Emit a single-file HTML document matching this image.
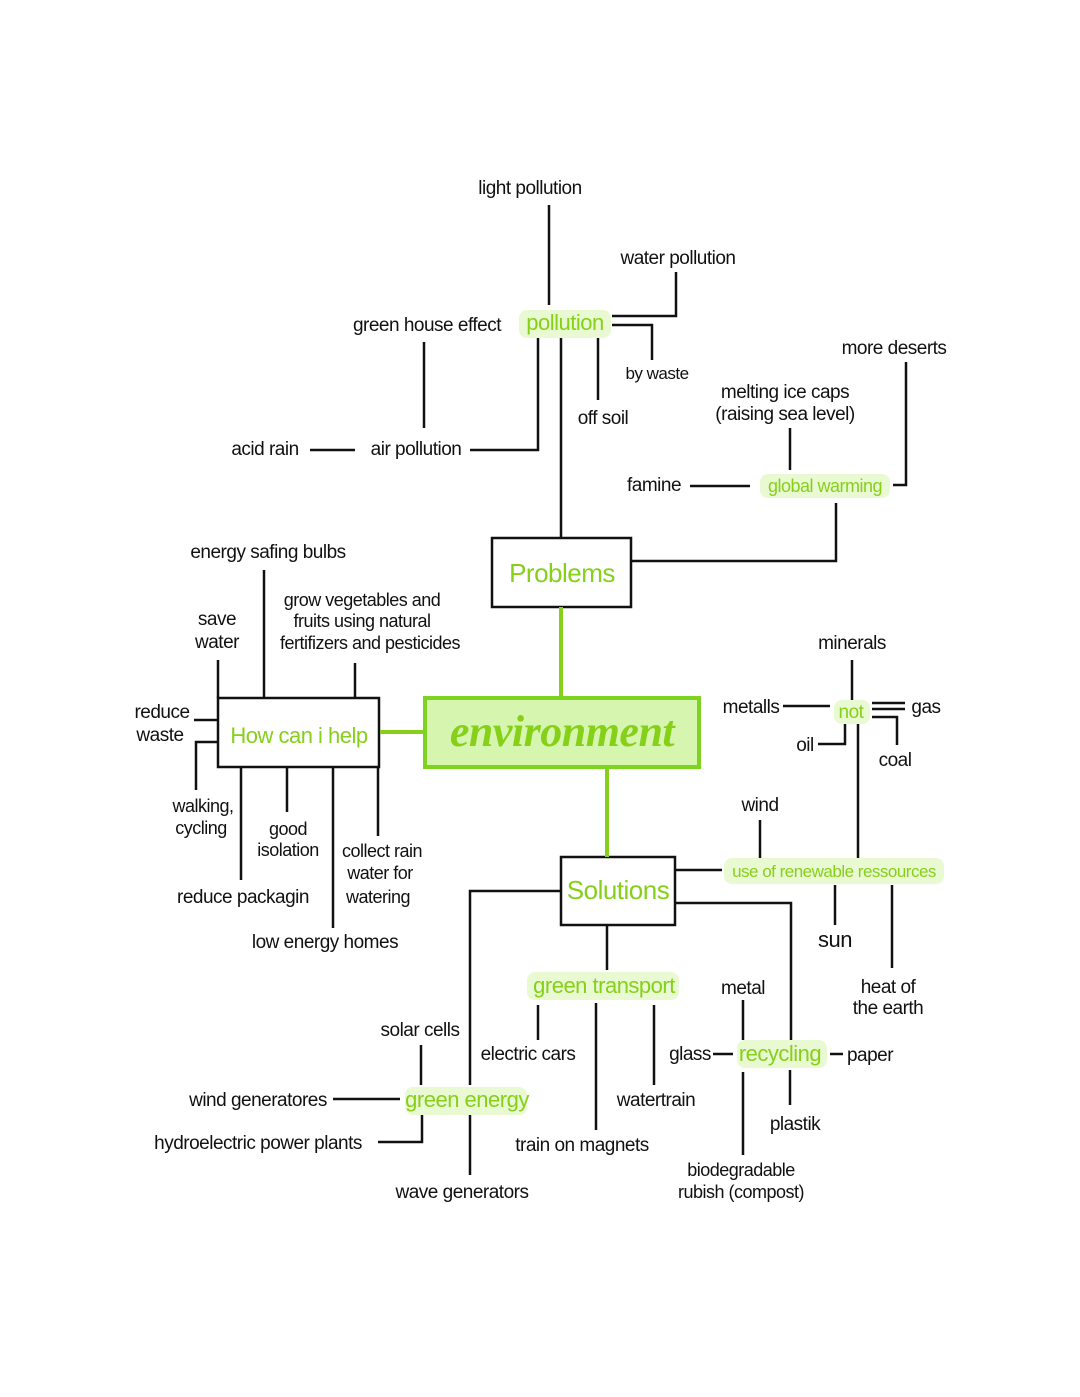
<!DOCTYPE html>
<html><head><meta charset="utf-8"><style>
html,body{margin:0;padding:0;background:#fff}
svg{display:block}
text{font-family:"Liberation Sans Narrow","Liberation Sans",sans-serif;font-size:19px;fill:#111;text-anchor:middle;letter-spacing:-0.5px}
.g{fill:#86d01a}
.hl{fill:#e9f9d2}
</style></head><body>
<svg width="1080" height="1397" viewBox="0 0 1080 1397" xmlns="http://www.w3.org/2000/svg">
<g stroke="#111" stroke-width="2.5" fill="none">
<path d="M549 205V305"/><path d="M676 272V316H612"/><path d="M612 325H652V360"/>
<path d="M598 338V400"/><path d="M424 342V428"/><path d="M310 450H355"/>
<path d="M470 450H538V338"/><path d="M561 338V537"/>
<rect x="492" y="538" width="139" height="69"/>
<path d="M631 561H836V503"/><path d="M690 486H750"/><path d="M790 428V470"/>
<path d="M906 362V485H893"/>
<rect x="218" y="698" width="161" height="69"/>
<path d="M218 660V698"/><path d="M264 570V698"/><path d="M355 663V698"/>
<path d="M194 720H218"/><path d="M218 742H196V790"/>
<path d="M241 767V880"/><path d="M287 767V812"/><path d="M333 767V928"/><path d="M378 767V836"/>
<rect x="561" y="857" width="114" height="68"/>
<path d="M675 870H722"/><path d="M760 820V860"/>
<path d="M852 660V700"/><path d="M783 706H830"/><path d="M872 703H905M872 709H905"/>
<path d="M818 744H845V724"/><path d="M872 717H897V745"/><path d="M858 724V858"/>
<path d="M835 885V925"/><path d="M892 885V968"/>
<path d="M675 903H791V1040"/>
<path d="M743 1000V1040"/><path d="M713 1054H733"/><path d="M830 1054H843"/>
<path d="M790 1070V1105"/><path d="M743 1072V1155"/>
<path d="M607 925V970"/><path d="M538 1005V1040"/><path d="M596 1003V1130"/><path d="M654 1005V1085"/>
<path d="M561 891H470V1085"/><path d="M421 1045V1085"/><path d="M333 1099H400"/>
<path d="M378 1142H422V1115"/><path d="M470 1115V1175"/>
</g>
<g stroke="#86d01a" stroke-width="4" fill="none">
<path d="M561 607V697"/><path d="M380 732H424"/><path d="M607 768V857"/>
</g>
<rect x="425" y="698" width="274" height="69" fill="#d6f5ae" stroke="#7ed321" stroke-width="4"/>
<text x="562" y="746" class="g" style="font-family:'Liberation Serif',serif;font-style:italic;font-weight:bold;font-size:44px">environment</text>
<g class="hl">
<rect x="519" y="310" width="92" height="28" rx="8"/>
<rect x="760" y="474" width="130" height="24" rx="8"/>
<rect x="834" y="700" width="36" height="24" rx="8"/>
<rect x="724" y="858" width="220" height="26" rx="8"/>
<rect x="527" y="972" width="152" height="28" rx="8"/>
<rect x="737" y="1040" width="90" height="28" rx="8"/>
<rect x="405" y="1087" width="122" height="28" rx="8"/>
</g>
<text x="530" y="194">light pollution</text>
<text x="678" y="264">water pollution</text>
<text x="565" y="330" class="g" style="font-size:22px">pollution</text>
<text x="427" y="331">green house effect</text>
<text x="657" y="379" style="font-size:17px">by waste</text>
<text x="603" y="424">off soil</text>
<text x="894" y="354">more deserts</text>
<text x="785" y="398">melting ice caps</text>
<text x="785" y="420">(raising sea level)</text>
<text x="265" y="455">acid rain</text>
<text x="416" y="455">air pollution</text>
<text x="654" y="491">famine</text>
<text x="825" y="492" class="g" style="font-size:18px">global warming</text>
<text x="562" y="582" class="g" style="font-size:26px">Problems</text>
<text x="268" y="558">energy safing bulbs</text>
<text x="217" y="625">save</text><text x="217" y="648">water</text>
<text x="362" y="606" style="font-size:18px">grow vegetables and</text>
<text x="362" y="627" style="font-size:18px">fruits using natural</text>
<text x="370" y="649" style="font-size:18px">fertifizers and pesticides</text>
<text x="162" y="718">reduce</text><text x="160" y="741">waste</text>
<text x="299" y="743" class="g" style="font-size:22px">How can i help</text>
<text x="203" y="812" style="font-size:18px">walking,</text><text x="201" y="834" style="font-size:18px">cycling</text>
<text x="288" y="835" style="font-size:18px">good</text><text x="288" y="856" style="font-size:18px">isolation</text>
<text x="382" y="857" style="font-size:18px">collect rain</text><text x="380" y="879" style="font-size:18px">water for</text><text x="378" y="903" style="font-size:18px">watering</text>
<text x="243" y="903">reduce packagin</text>
<text x="325" y="948">low energy homes</text>
<text x="852" y="649">minerals</text>
<text x="751" y="713">metalls</text>
<text x="851" y="718" class="g">not</text>
<text x="926" y="713">gas</text>
<text x="805" y="751">oil</text>
<text x="895" y="766">coal</text>
<text x="760" y="811">wind</text>
<text x="618" y="899" class="g" style="font-size:26px">Solutions</text>
<text x="834" y="877" class="g" style="font-size:17px">use of renewable ressources</text>
<text x="835" y="947" style="font-size:22px">sun</text>
<text x="888" y="993">heat of</text><text x="888" y="1014">the earth</text>
<text x="604" y="993" class="g" style="font-size:22px">green transport</text>
<text x="743" y="994">metal</text>
<text x="420" y="1036">solar cells</text>
<text x="528" y="1060">electric cars</text>
<text x="690" y="1060">glass</text>
<text x="780" y="1061" class="g" style="font-size:22px">recycling</text>
<text x="870" y="1061">paper</text>
<text x="258" y="1106">wind generatores</text>
<text x="467" y="1107" class="g" style="font-size:22px">green energy</text>
<text x="656" y="1106">watertrain</text>
<text x="795" y="1130">plastik</text>
<text x="258" y="1149">hydroelectric power plants</text>
<text x="582" y="1151">train on magnets</text>
<text x="741" y="1176" style="font-size:18px">biodegradable</text>
<text x="741" y="1198" style="font-size:18px">rubish (compost)</text>
<text x="462" y="1198">wave generators</text>
</svg>
</body></html>
